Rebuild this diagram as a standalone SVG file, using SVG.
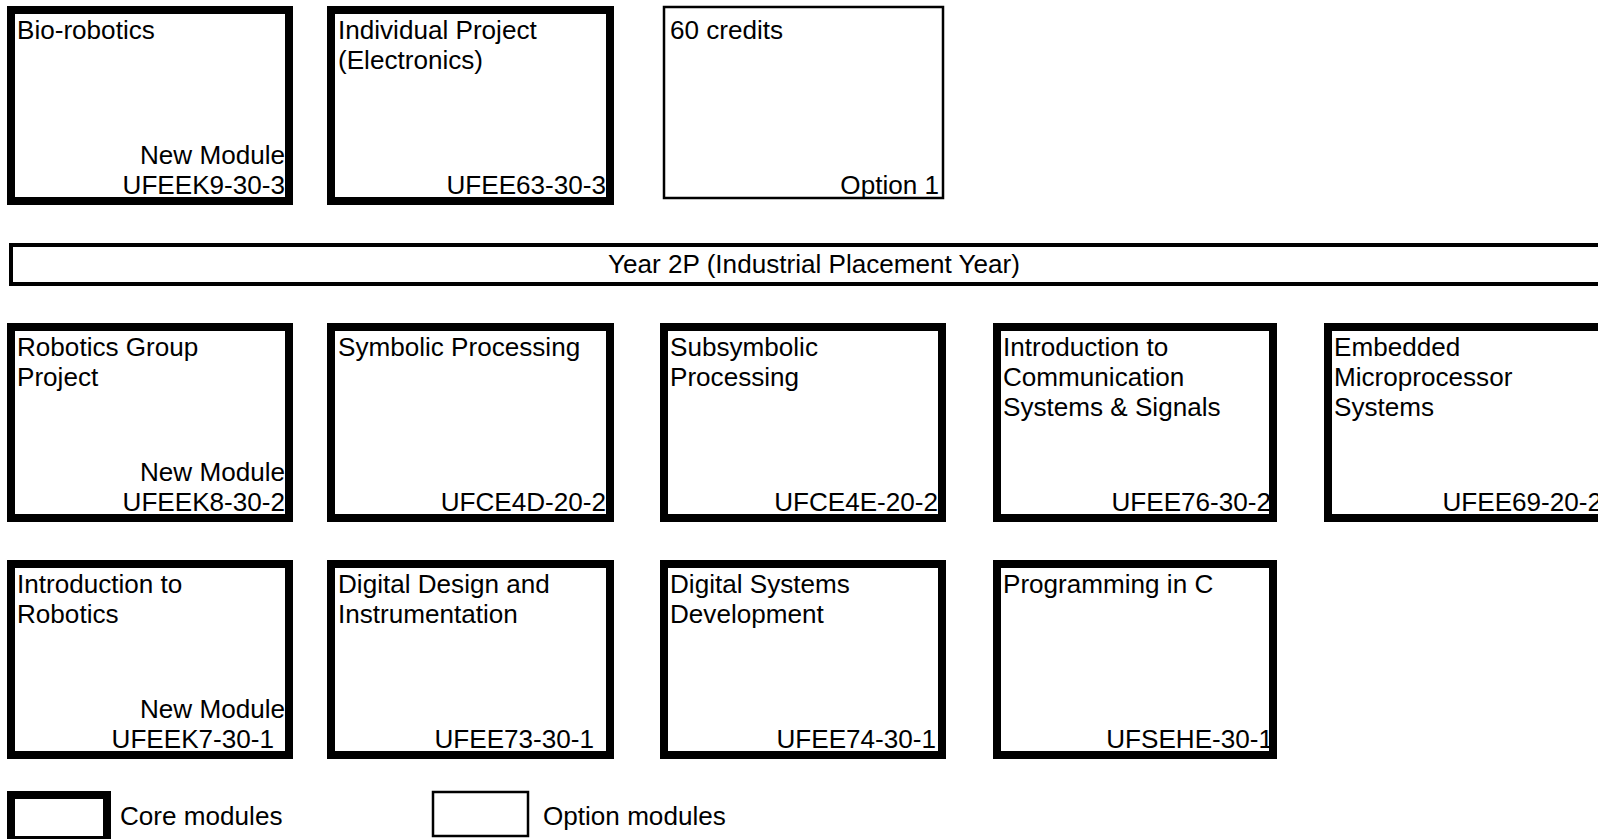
<svg xmlns="http://www.w3.org/2000/svg" width="1598" height="839" viewBox="0 0 1598 839">
<style>
.core{fill:#fff;stroke:#000;stroke-width:8}
.opt{fill:#fff;stroke:#000;stroke-width:2.5}
.ban{fill:#fff;stroke:#000;stroke-width:4}
text{font-family:"Liberation Sans",Arial,sans-serif;font-size:26.1px;fill:#000}
.r{text-anchor:end}
.c{text-anchor:middle}
</style>
<rect x="0" y="0" width="1598" height="839" fill="#fff"/>
<g id="connectors"></g>
<!-- Row 1 -->
<g id="bio-robotics">
<rect class="core" x="11" y="10" width="278" height="191"/>
<text x="17" y="39">Bio-robotics</text>
<text class="r" x="285" y="164">New Module</text>
<text class="r" x="285" y="194">UFEEK9-30-3</text>
</g>
<g id="individual-project">
<rect class="core" x="331" y="10" width="279" height="191"/>
<text x="338" y="39">Individual Project</text>
<text x="338" y="69">(Electronics)</text>
<text class="r" x="606" y="194">UFEE63-30-3</text>
</g>
<g id="credits-60">
<rect class="opt" x="664" y="7" width="279" height="191"/>
<text x="670" y="39">60 credits</text>
<text class="r" x="939" y="194">Option 1</text>
</g>
<!-- Banner -->
<g id="year-2p">
<rect class="ban" x="11" y="245" width="1600" height="39"/>
<text class="c" x="814" y="273">Year 2P (Industrial Placement Year)</text>
</g>
<!-- Row 2 -->
<g id="robotics-group-project">
<rect class="core" x="11" y="327" width="278" height="191"/>
<text x="17" y="356">Robotics Group</text>
<text x="17" y="386">Project</text>
<text class="r" x="285" y="481">New Module</text>
<text class="r" x="285" y="511">UFEEK8-30-2</text>
</g>
<g id="symbolic-processing">
<rect class="core" x="331" y="327" width="279" height="191"/>
<text x="338" y="356">Symbolic Processing</text>
<text class="r" x="606" y="511">UFCE4D-20-2</text>
</g>
<g id="subsymbolic-processing">
<rect class="core" x="664" y="327" width="278" height="191"/>
<text x="670" y="356">Subsymbolic</text>
<text x="670" y="386">Processing</text>
<text class="r" x="938" y="511">UFCE4E-20-2</text>
</g>
<g id="intro-communication">
<rect class="core" x="997" y="327" width="276" height="191"/>
<text x="1003" y="356">Introduction to</text>
<text x="1003" y="386">Communication</text>
<text x="1003" y="416">Systems &amp; Signals</text>
<text class="r" x="1271" y="511">UFEE76-30-2</text>
</g>
<g id="embedded-microprocessor">
<rect class="core" x="1328" y="327" width="278" height="191"/>
<text x="1334" y="356">Embedded</text>
<text x="1334" y="386">Microprocessor</text>
<text x="1334" y="416">Systems</text>
<text class="r" x="1602" y="511">UFEE69-20-2</text>
</g>
<!-- Row 3 -->
<g id="intro-robotics">
<rect class="core" x="11" y="564" width="278" height="191"/>
<text x="17" y="593">Introduction to</text>
<text x="17" y="623">Robotics</text>
<text class="r" x="285" y="718">New Module</text>
<text class="r" x="274" y="748">UFEEK7-30-1</text>
</g>
<g id="digital-design">
<rect class="core" x="331" y="564" width="279" height="191"/>
<text x="338" y="593">Digital Design and</text>
<text x="338" y="623">Instrumentation</text>
<text class="r" x="594" y="748">UFEE73-30-1</text>
</g>
<g id="digital-systems">
<rect class="core" x="664" y="564" width="278" height="191"/>
<text x="670" y="593">Digital Systems</text>
<text x="670" y="623">Development</text>
<text class="r" x="936" y="748">UFEE74-30-1</text>
</g>
<g id="programming-c">
<rect class="core" x="997" y="564" width="276" height="191"/>
<text x="1003" y="593">Programming in C</text>
<text class="r" x="1273" y="748">UFSEHE-30-1</text>
</g>
<!-- Legend -->
<g id="legend-core">
<rect class="core" x="11" y="795" width="96" height="45"/>
<text x="120" y="825">Core modules</text>
</g>
<g id="legend-option">
<rect class="opt" x="433" y="792" width="95" height="44"/>
<text x="543" y="825">Option modules</text>
</g>
</svg>
